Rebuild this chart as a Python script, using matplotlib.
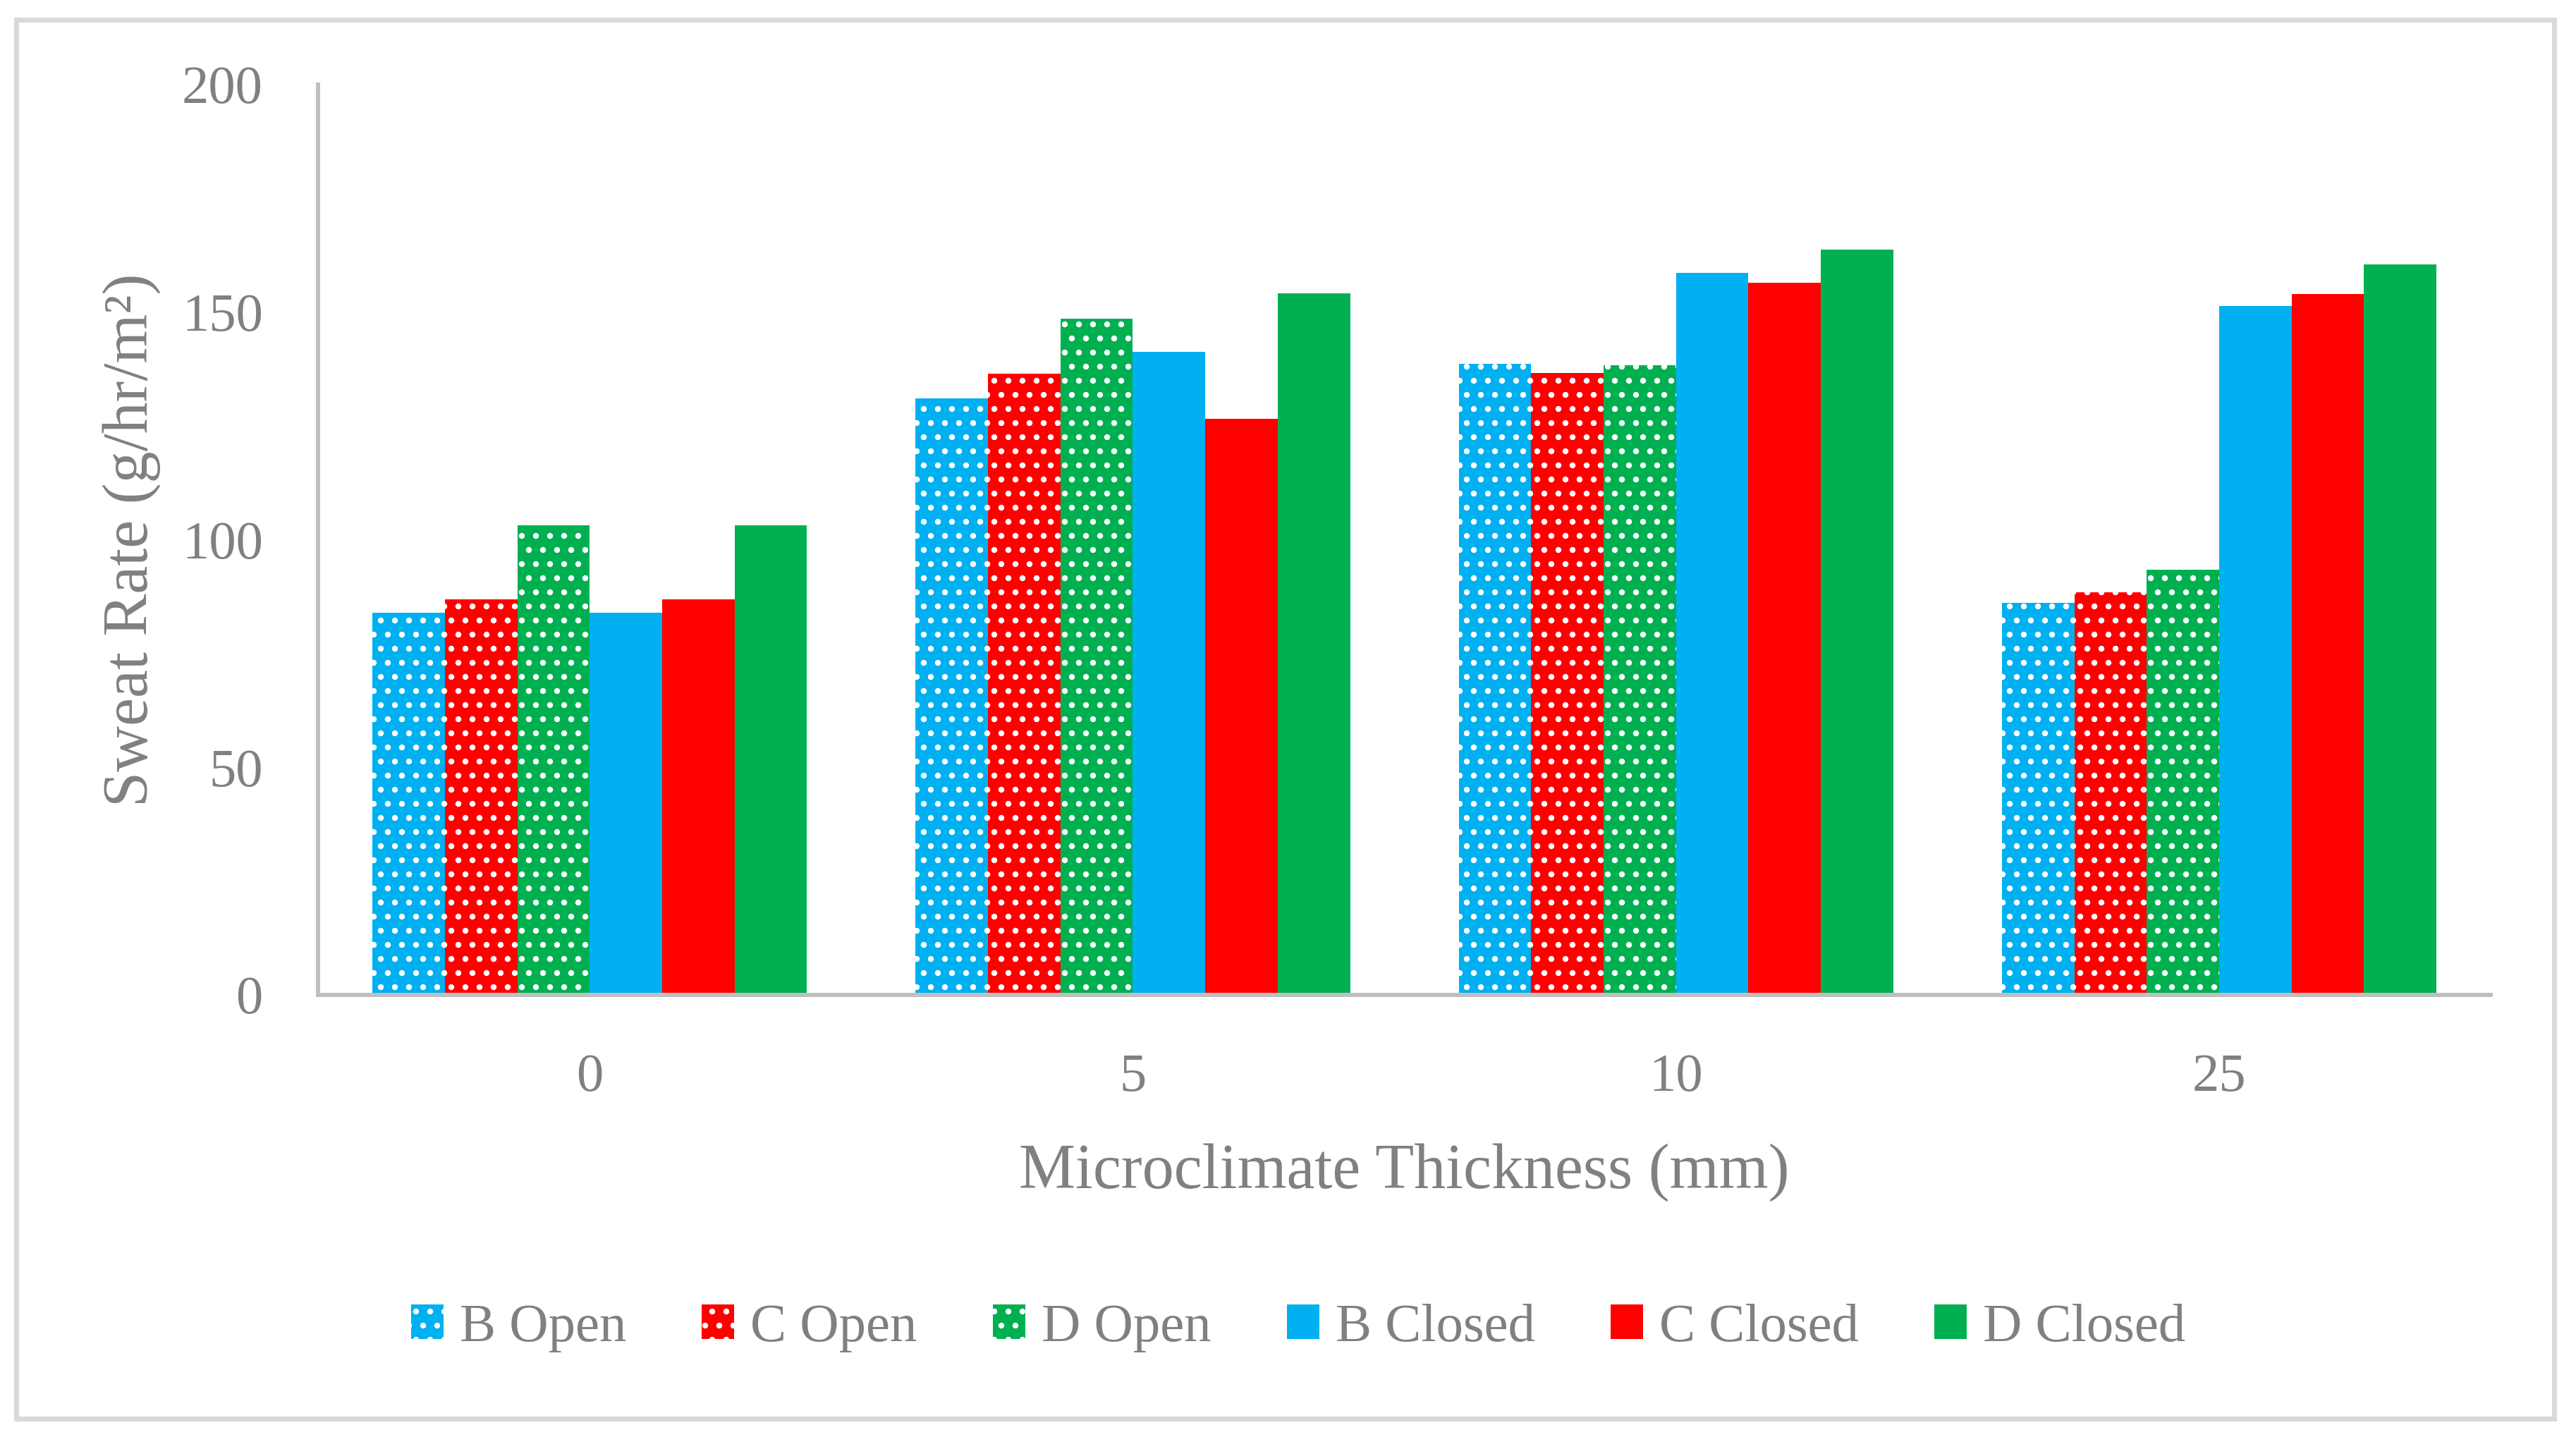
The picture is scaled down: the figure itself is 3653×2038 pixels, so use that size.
import numpy as np
import matplotlib
matplotlib.use('Agg')
import matplotlib.pyplot as plt
from matplotlib.patches import Rectangle

# data
categories = ['0', '5', '10', '25']
series_names = ['B Open', 'C Open', 'D Open', 'B Closed', 'C Closed', 'D Closed']
b_open = [84.0, 131.1, 138.7, 86.1]
c_open = [86.9, 136.5, 136.6, 88.5]
d_open = [103.2, 148.6, 138.3, 93.4]
b_closed = [84.0, 141.3, 158.6, 151.4]
c_closed = [86.9, 126.6, 156.5, 154.0]
d_closed = [103.2, 154.1, 163.8, 160.5]
yticks = [0, 50, 100, 150, 200]

series = [b_open, c_open, d_open, b_closed, c_closed, d_closed]
colors = ['#00B0F0', '#FF0000', '#00B050'] * 2
hatches = ['.', '.', '.', None, None, None]
text_gray = '#808080'

plt.rcParams['font.family'] = ['Liberation Serif', 'DejaVu Serif']
plt.rcParams['hatch.linewidth'] = 2.6

DPI = 120
fig = plt.figure(figsize=(3653 / DPI, 2038 / DPI), dpi=DPI)
ax = fig.add_axes([0.1235, 0.3077, 0.8434, 0.6335])

x = np.arange(len(categories))
w = 0.8 / len(series)
for i, vals in enumerate(series):
    ax.bar(x + (i - 2.5) * w, vals, w, color=colors[i], hatch=hatches[i],
           edgecolor='white', linewidth=0, label=series_names[i])

ax.set_xlim(-0.5, len(categories) - 0.5)
ax.set_ylim(0, 200)
ax.set_xticks(x)
ax.set_xticklabels(categories)
ax.set_yticks(yticks)

for s in ['top', 'right']:
    ax.spines[s].set_visible(False)
for s in ['left', 'bottom']:
    ax.spines[s].set_color('#BFBFBF')
    ax.spines[s].set_linewidth(3.6)

ax.tick_params(length=0, labelsize=46, labelcolor=text_gray)
ax.tick_params(axis='x', pad=50)
ax.tick_params(axis='y', pad=47)

ax.set_ylabel('Sweat Rate (g/hr/m²)', fontsize=54, color=text_gray)
ax.yaxis.set_label_coords(-0.0725, 0.5)
ax.set_xlabel('Microclimate Thickness (mm)', fontsize=54, color=text_gray)
ax.xaxis.set_label_coords(0.5, -0.163)

fig.legend(loc='center', bbox_to_anchor=(0.504, 0.076), ncol=6, frameon=False,
           fontsize=46, handlelength=0.6, handleheight=0.6, handletextpad=0.3,
           columnspacing=1.4, labelcolor=text_gray)

# light chart-area border
fig.add_artist(Rectangle((23 / 3653, 1 - 2012 / 2038), (3622 - 23) / 3653,
                         (2012 - 28) / 2038, transform=fig.transFigure,
                         fill=False, edgecolor='#D9D9D9', linewidth=4.2))

fig.savefig('out.png', dpi=DPI)
